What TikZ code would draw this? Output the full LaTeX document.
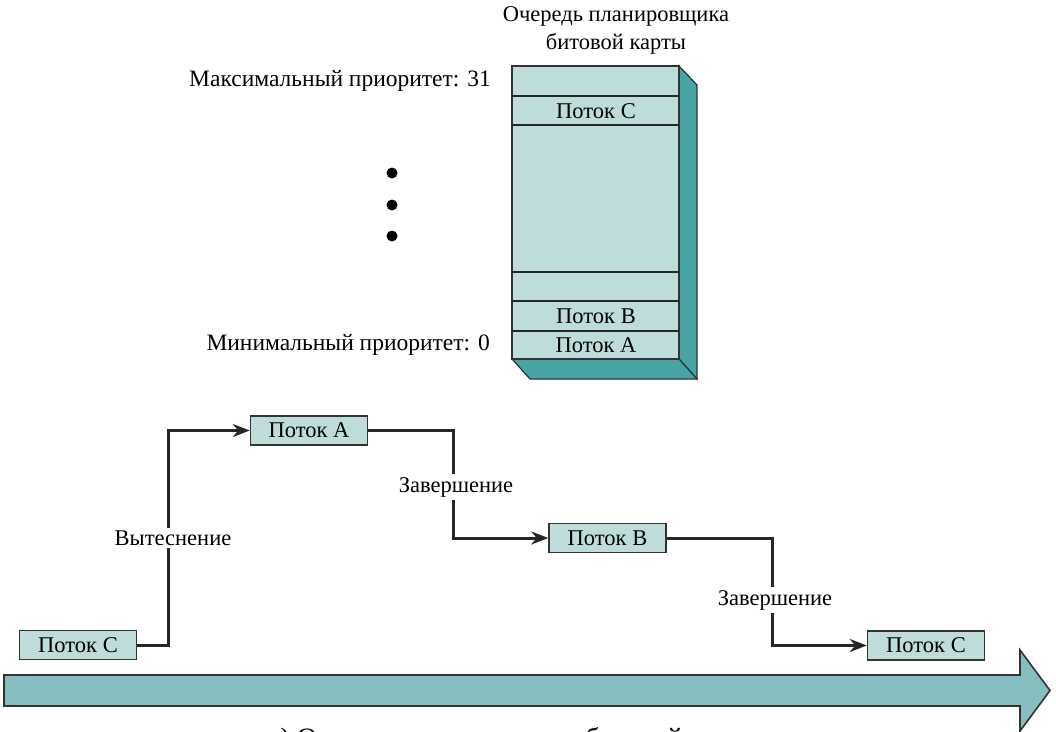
\documentclass[tikz,border=0pt]{standalone}
\usepackage{fontspec}
\setmainfont{Liberation Serif}
\usetikzlibrary{arrows.meta}
\definecolor{boxfill}{HTML}{BDDCDA}
\definecolor{sidefill}{HTML}{46A4A4}
\definecolor{arrowfill}{HTML}{86BEBF}
\definecolor{edgegray}{HTML}{333333}
\tikzset{
  txt/.style={font=\fontsize{22.5}{26}\selectfont, inner sep=0pt},
  bigtxt/.style={font=\fontsize{23.5}{27}\selectfont, inner sep=0pt},
  thread/.style={txt, draw=edgegray, line width=1.5pt, fill=boxfill,
    minimum width=117pt, minimum height=29pt},
  conn/.style={line width=3pt, black!85, -{Stealth[length=17pt,width=13pt]}},
  lbl/.style={txt, fill=white, inner xsep=1pt, inner ysep=3pt},
  rowline/.style={line width=2.6pt, black!85},
}
\begin{document}
\begin{tikzpicture}[x=1pt,y=-1pt]
\clip (0,0) rectangle (1056,731);
\fill[white] (0,0) rectangle (1056,731);

% title
\node[txt, align=center] (title) at (616,30) {Очередь планировщика\\[2pt]битовой карты};

% stack 3D box
\draw[edgegray, line width=1.2pt, fill=sidefill] (679,66) -- (697,85) -- (697,379) -- (679,359) -- cycle;
\draw[edgegray, line width=1.2pt, fill=sidefill] (512,359) -- (679,359) -- (697,379) -- (530,379) -- cycle;
\draw[edgegray, line width=1.5pt, fill=boxfill] (512,66) rectangle (679,359);
\foreach \yy in {96,125,272,301,331} \draw[rowline] (512,\yy) -- (679,\yy);
\node[txt] (rowC) at (596,111) {Поток C};
\node[txt] (rowB) at (596,316) {Поток B};
\node[txt] (rowA) at (596,345) {Поток A};

% priority labels
\node[bigtxt, anchor=east] (maxp) at (491,81) {Максимальный приоритет: 31};
\node[bigtxt, anchor=east] (minp) at (490,345) {Минимальный приоритет: 0};
\foreach \yy in {173,205,236} \fill[black] (392,\yy) circle (5.5pt);

% time arrow
\draw[edgegray, line width=1.6pt, fill=arrowfill]
  (4,675) -- (1020,675) -- (1020,650) -- (1050,690.5) -- (1020,731) -- (1020,706) -- (4,706) -- cycle;

% timeline threads
\node[thread] (c1) at (78,645) {Поток C};
\node[thread] (a) at (309,430.5) {Поток A};
\node[thread] (b) at (607.5,538) {Поток B};
\node[thread] (c2) at (926,645.5) {Поток C};

\coordinate (k1) at (168,645);
\coordinate (k2) at (168,430.5);
\coordinate (k3) at (453,430.5);
\coordinate (k4) at (453,538);
\coordinate (k5) at (772,538);
\coordinate (k6) at (772,645.5);

\draw[conn] (c1.east) -- (k1) -- (k2) -- (a.west);
\draw[conn] (a.east) -- (k3) -- (k4) -- (b.west);
\draw[conn] (b.east) -- (k5) -- (k6) -- (c2.west);

\node[lbl] (l1) at (173,538) {Вытеснение};
\node[lbl] (l2) at (456,487) {Завершение};
\node[lbl] (l3) at (775,600) {Завершение};

% caption (cut off by the lower edge, as in the original)
\node[font=\fontsize{28}{32}\selectfont, inner sep=0pt, anchor=base west] (cap) at (268,747.5) {а) Очередь планировщика битовой карты};
\end{tikzpicture}
\end{document}
